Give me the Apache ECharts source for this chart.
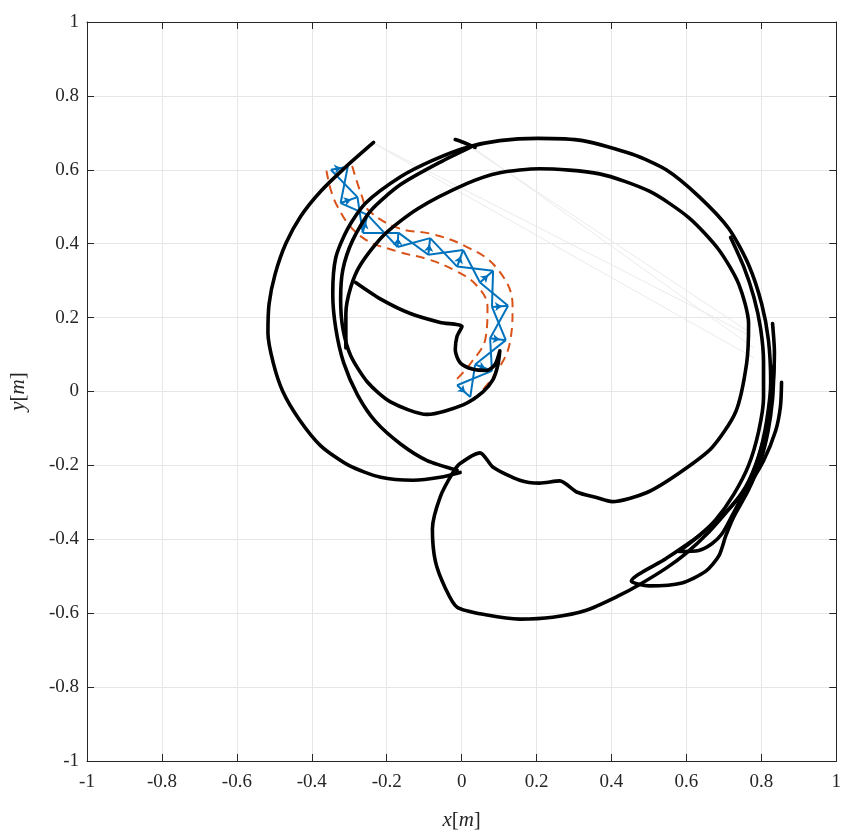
<!DOCTYPE html>
<html><head><meta charset="utf-8">
<script src="https://cdn.jsdelivr.net/npm/echarts@6/dist/echarts.min.js"></script>
<style>html,body{margin:0;padding:0;background:#fff;overflow:hidden}#c{width:844px;height:836px}</style>
</head><body><div id="c"></div><script>
// robot truss nodes (two sides)
const sideA = [[-0.349,0.600],[-0.323,0.510],[-0.264,0.430],[-0.171,0.391],[-0.089,0.370],[-0.012,0.338],[0.049,0.295],[0.081,0.229],[0.076,0.144],[0.036,0.073],[-0.012,0.017]];
const sideB = [[-0.304,0.608],[-0.278,0.526],[-0.251,0.478],[-0.169,0.430],[-0.084,0.415],[0.004,0.383],[0.084,0.327],[0.124,0.232],[0.118,0.139],[0.081,0.056],[0.023,-0.015]];
// black trajectory strokes
const path1 = [[-0.235,0.674],[-0.309,0.608],[-0.376,0.542],[-0.429,0.475],[-0.469,0.401],[-0.498,0.317],[-0.514,0.237],[-0.517,0.158],[-0.503,0.078],[-0.477,-0.001],[-0.434,-0.075],[-0.376,-0.147],[-0.301,-0.200],[-0.216,-0.232],[-0.129,-0.240],[-0.057,-0.232],[-0.004,-0.219]];
const path2 = [[-0.012,-0.213],[-0.092,-0.187],[-0.163,-0.142],[-0.230,-0.081],[-0.278,-0.009],[-0.315,0.078],[-0.336,0.171],[-0.344,0.264],[-0.336,0.362],[-0.304,0.441],[-0.256,0.510],[-0.163,0.581],[-0.076,0.626],[0.015,0.661],[0.102,0.679],[0.203,0.685],[0.323,0.679],[0.456,0.642],[0.546,0.600],[0.633,0.528],[0.713,0.441],[0.766,0.343],[0.801,0.237],[0.819,0.139],[0.825,0.025],[0.814,-0.081],[0.793,-0.174],[0.758,-0.258],[0.705,-0.327],[0.633,-0.391],[0.546,-0.452],[0.453,-0.513],[0.501,-0.526],[0.588,-0.518],[0.652,-0.486],[0.687,-0.444],[0.705,-0.391],[0.726,-0.340],[0.766,-0.266],[0.798,-0.187],[0.818,-0.107],[0.830,-0.020],[0.834,0.070]];
const path3 = [[-0.309,0.118],[-0.309,0.211],[-0.296,0.282],[-0.270,0.343],[-0.208,0.423],[-0.118,0.494],[0.015,0.563],[0.102,0.592],[0.208,0.603],[0.368,0.589],[0.501,0.542],[0.607,0.470],[0.687,0.383],[0.740,0.290],[0.766,0.184],[0.761,0.078],[0.732,-0.054],[0.668,-0.152],[0.580,-0.221],[0.493,-0.274],[0.402,-0.298],[0.360,-0.287],[0.307,-0.272],[0.262,-0.242],[0.208,-0.248],[0.155,-0.240],[0.084,-0.205],[0.049,-0.166],[-0.004,-0.195],[-0.023,-0.219],[-0.057,-0.285],[-0.078,-0.372],[-0.070,-0.460],[-0.044,-0.531],[-0.012,-0.584],[0.068,-0.605],[0.155,-0.616],[0.243,-0.611],[0.333,-0.592],[0.421,-0.552],[0.474,-0.523],[0.546,-0.478],[0.599,-0.438],[0.660,-0.380],[0.708,-0.325],[0.761,-0.261],[0.806,-0.187],[0.838,-0.107],[0.851,-0.041],[0.854,0.025]];
const path4 = [[-0.283,0.295],[-0.216,0.250],[-0.137,0.211],[-0.057,0.187],[0.001,0.176],[-0.012,0.150],[-0.017,0.113],[-0.004,0.078],[0.031,0.060],[0.068,0.057],[0.089,0.073],[0.102,0.110],[0.097,0.073],[0.084,0.033],[0.057,-0.001],[0.004,-0.036],[-0.092,-0.062],[-0.190,-0.028],[-0.251,0.025],[-0.296,0.097],[-0.317,0.171],[-0.323,0.250],[-0.317,0.330],[-0.291,0.409],[-0.243,0.489],[-0.163,0.560],[-0.057,0.621],[0.023,0.661]];
const path5 = [[0.718,0.417],[0.753,0.338],[0.780,0.256],[0.798,0.171],[0.806,0.078],[0.806,-0.015],[0.793,-0.107],[0.766,-0.200],[0.726,-0.279],[0.679,-0.346],[0.633,-0.391],[0.580,-0.433],[0.633,-0.430],[0.668,-0.412],[0.695,-0.385],[0.721,-0.338],[0.748,-0.285],[0.774,-0.232],[0.798,-0.160],[0.817,-0.081],[0.830,0.012],[0.835,0.105],[0.830,0.184]];
const path6 = [[-0.017,0.682],[0.000,0.676],[0.036,0.661]];
// faint jump lines
const faint = [[[-0.235,0.672],[0.772,0.150]],[[-0.227,0.667],[0.780,0.091]],[[-0.009,0.682],[0.772,0.158]],[[0.023,0.666],[0.780,0.118]]];

const FONT = 'Liberation Serif';
const blue = '#0072BD', orange = '#D95319';

const trussSegs = [], arrowSegs = [];
for (let i = 0; i < sideA.length; i++) {
  const a = sideA[i], b = sideB[i];
  trussSegs.push({coords:[a,b]});
  arrowSegs.push({coords:[[a[0]+0.2*(b[0]-a[0]), a[1]+0.2*(b[1]-a[1])],[a[0]+0.62*(b[0]-a[0]), a[1]+0.62*(b[1]-a[1])]]});
  if (i < sideA.length-1) {
    trussSegs.push({coords:[a, sideB[i+1]]});
    trussSegs.push({coords:[b, sideA[i+1]]});
  }
}
const off = 0.012;
const outA = [], outB = [];
for (let i = 0; i < sideA.length; i++) {
  const a = sideA[i], b = sideB[i];
  const dx = a[0]-b[0], dy = a[1]-b[1], L = Math.hypot(dx,dy);
  outA.push([a[0]+off*dx/L, a[1]+off*dy/L]);
  outB.push([b[0]-off*dx/L, b[1]-off*dy/L]);
}

const blackLine = d => ({type:'line', data:d, showSymbol:false, symbol:'none', smooth:0.25, z:5,
  lineStyle:{color:'#000', width:3.6, cap:'round', join:'round'}, animation:false});

const fmt = v => { const r = Math.round(v*10)/10; return r === 0 ? '0' : String(r); };
const axisCommon = {
  type:'value', min:-1, max:1, interval:0.2,
  axisLine:{show:true, onZero:false, lineStyle:{color:'#262626', width:1}},
  axisTick:{show:true, inside:true, length:7, lineStyle:{color:'#262626'}},
  splitLine:{show:false}
};
const nameStyle = {fontFamily:FONT, fontSize:21, color:'#262626',
  rich:{i:{fontFamily:FONT, fontStyle:'italic', fontSize:21, color:'#262626'}}};
const chart = echarts.init(document.getElementById('c'), null, {renderer:'canvas', width:844, height:836});
chart.setOption({
  animation:false,
  backgroundColor:'#fff',
  grid:{left:85, top:22, width:753, height:755, containLabel:false},
  xAxis:[
    Object.assign({}, axisCommon, {position:'bottom',
      axisLabel:{formatter:fmt, fontFamily:FONT, fontSize:19, color:'#262626', margin:12},
      splitLine:{show:true, lineStyle:{color:'#e6e6e6', width:1}},
      name:'{i|x}[{i|m}]', nameLocation:'middle', nameGap:49, nameTextStyle:nameStyle}),
    Object.assign({}, axisCommon, {position:'top', axisLabel:{show:false}})
  ],
  yAxis:[
    Object.assign({}, axisCommon, {position:'left',
      axisLabel:{formatter:fmt, fontFamily:FONT, fontSize:19, color:'#262626', margin:8},
      splitLine:{show:true, lineStyle:{color:'#e6e6e6', width:1}},
      name:'{i|y}[{i|m}]', nameLocation:'middle', nameGap:58, nameRotate:90, nameTextStyle:nameStyle}),
    Object.assign({}, axisCommon, {position:'right', axisLabel:{show:false}})
  ],
  series:[
    {type:'lines', coordinateSystem:'cartesian2d', polyline:false, data:faint.map(c=>({coords:c})),
      lineStyle:{color:'#ebebeb', width:1, opacity:1}, z:1, silent:true},
    {type:'line', data:outA, showSymbol:false, symbol:'none', smooth:0.4, z:2,
      lineStyle:{color:orange, width:2, type:[9,6]}},
    {type:'line', data:outB, showSymbol:false, symbol:'none', smooth:0.4, z:2,
      lineStyle:{color:orange, width:2, type:[9,6]}},
    {type:'lines', coordinateSystem:'cartesian2d', data:trussSegs,
      lineStyle:{color:blue, width:2, opacity:1}, z:3},
    {type:'lines', coordinateSystem:'cartesian2d', data:arrowSegs, symbol:['none','arrow'], symbolSize:7,
      lineStyle:{color:blue, width:1.5, opacity:1}, z:3},
    blackLine(path1), blackLine(path2), blackLine(path3), blackLine(path4), blackLine(path5), blackLine(path6)
  ]
});
</script></body></html>
